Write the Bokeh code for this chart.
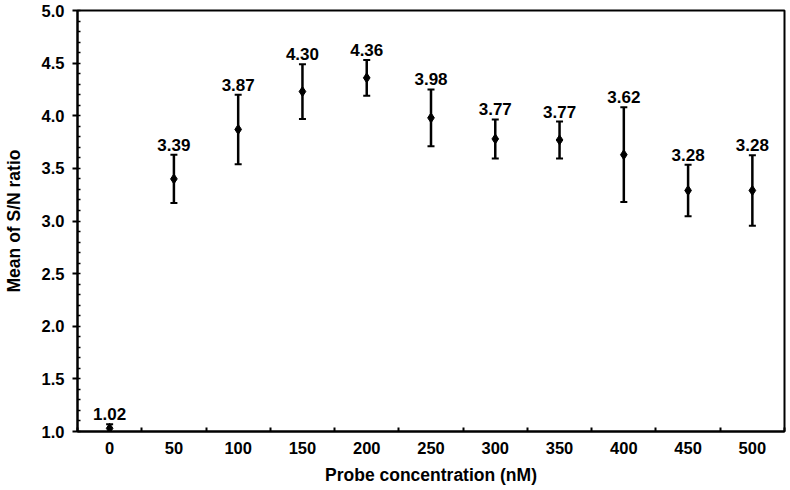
from bokeh.plotting import figure
from bokeh.models import ColumnDataSource, Whisker, TeeHead, FixedTicker, SingleIntervalTicker, NumeralTickFormatter, Range1d
from bokeh.core.properties import value
from bokeh.embed import file_html
from bokeh.resources import INLINE

concentration = [0, 50, 100, 150, 200, 250, 300, 350, 400, 450, 500]
mean_sn = [1.03, 3.40, 3.87, 4.23, 4.36, 3.98, 3.78, 3.77, 3.63, 3.29, 3.29]
err = [0.04, 0.23, 0.33, 0.26, 0.17, 0.27, 0.185, 0.175, 0.45, 0.245, 0.335]
labels = ["1.02", "3.39", "3.87", "4.30", "4.36", "3.98", "3.77", "3.77", "3.62", "3.28", "3.28"]
x_boundaries = [-25, 25, 75, 125, 175, 225, 275, 325, 375, 425, 475, 525]

src = ColumnDataSource(dict(
    x=concentration, y=mean_sn,
    upper=[m + e for m, e in zip(mean_sn, err)],
    lower=[m - e for m, e in zip(mean_sn, err)],
    label=labels,
))

FONT = "Liberation Sans"

p = figure(frame_width=707, frame_height=421, output_backend="svg", toolbar_location=None,
           x_range=Range1d(-25, 525), y_range=Range1d(1.0, 5.0),
           min_border_left=76, min_border_right=4, min_border_top=10, min_border_bottom=0)
p.grid.visible = False
p.outline_line_color = "black"
p.outline_line_width = 2
p.background_fill_color = "white"

# axes
p.xaxis.ticker = FixedTicker(ticks=concentration, minor_ticks=x_boundaries)
p.xaxis.major_tick_in = 0
p.xaxis.major_tick_out = 0
p.xaxis.minor_tick_in = 4
p.xaxis.minor_tick_out = 0
p.xaxis.minor_tick_line_width = 2
p.xaxis.axis_line_width = 2
p.xaxis.major_label_standoff = 10
p.xaxis.axis_label = "Probe concentration (nM)"
p.xaxis.axis_label_standoff = 8

p.yaxis.ticker = SingleIntervalTicker(interval=0.5, num_minor_ticks=5)
p.yaxis.formatter = NumeralTickFormatter(format="0.0")
p.yaxis.major_tick_in = 0
p.yaxis.major_tick_out = 5
p.yaxis.major_tick_line_width = 2
p.yaxis.minor_tick_in = 3
p.yaxis.minor_tick_out = 0
p.yaxis.minor_tick_line_width = 1.5
p.yaxis.axis_line_width = 2
p.yaxis.major_label_standoff = 8
p.yaxis.axis_label = "Mean of S/N ratio"
p.yaxis.axis_label_standoff = 15

for ax in (p.xaxis, p.yaxis):
    ax.major_label_text_font = FONT
    ax.major_label_text_font_style = "bold"
    ax.major_label_text_font_size = "16.5px"
    ax.major_label_text_color = "black"
    ax.axis_label_text_font = FONT
    ax.axis_label_text_font_style = "bold"
    ax.axis_label_text_font_size = "17.5px"
    ax.axis_label_text_color = "black"
    ax.axis_line_color = "black"

whisk = Whisker(base="x", upper="upper", lower="lower", source=src,
                line_color="black", line_width=2.5,
                upper_head=TeeHead(size=7, line_width=2, line_color="black"),
                lower_head=TeeHead(size=7, line_width=2, line_color="black"))
p.add_layout(whisk)

p.scatter("x", "y", source=src, marker="diamond", size=10, color="black")

p.text("x", "upper", text="label", source=src, y_offset=-4,
       text_align="center", text_baseline="bottom",
       text_font=value(FONT), text_font_style="bold", text_font_size="17px",
       text_color="black")

open("out.html", "w").write(file_html(p, INLINE))
